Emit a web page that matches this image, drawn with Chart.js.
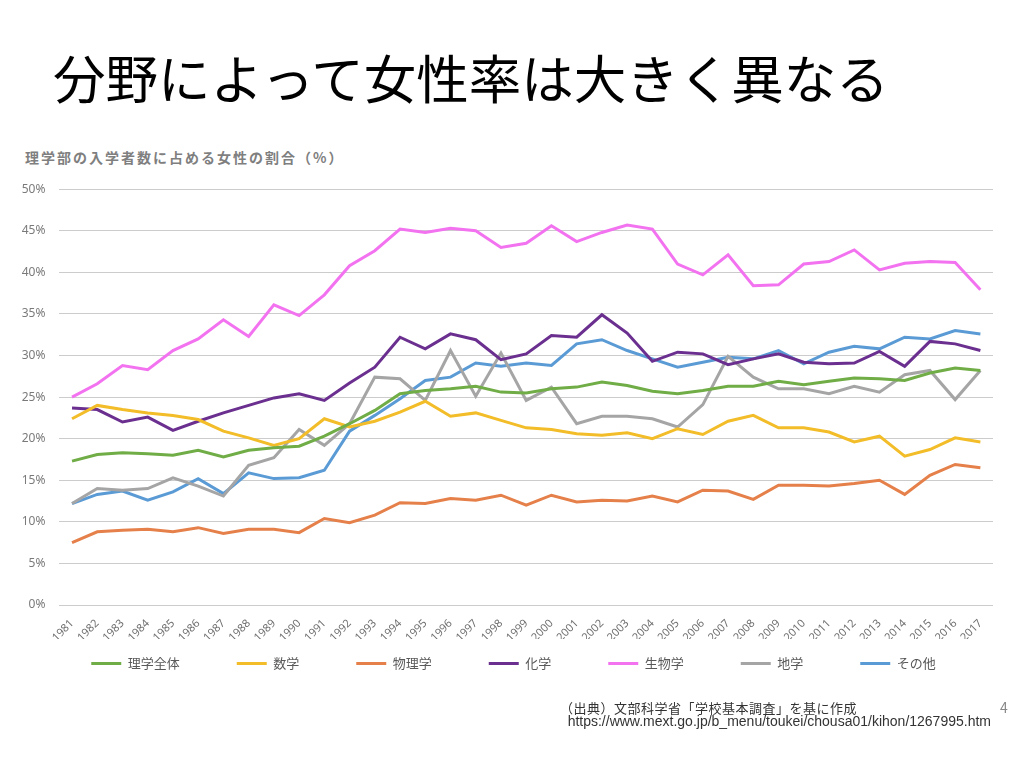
<!DOCTYPE html>
<html lang="ja">
<head>
<meta charset="utf-8">
<title>分野によって女性率は大きく異なる</title>
<script src="https://cdn.jsdelivr.net/npm/chart.js@4.4.0/dist/chart.umd.min.js"></script>
<style>
  html, body { margin: 0; padding: 0; background: #fff; }
  body { width: 1024px; height: 768px; position: relative; overflow: hidden; font-family: 'Noto Sans CJK JP', sans-serif; }
  .slide-title { position: absolute; left: 53px; top: 48px; font-size: 52.5px; line-height: 56px; color: #000; white-space: nowrap; }
  .chart-title { position: absolute; left: 25px; top: 147px; font-size: 14px; font-weight: bold; letter-spacing: 2px; color: #7f7f7f; white-space: nowrap; }
  #chart { position: absolute; left: 0; top: 168px; }
  .source { position: absolute; left: 560px; top: 698px; font-size: 13px; letter-spacing: 0.5px; color: #333; white-space: nowrap; }
  .url { position: absolute; right: 33px; top: 713px; font-family: 'Liberation Sans', sans-serif; font-size: 14px; color: #333; white-space: nowrap; }
  .page { position: absolute; left: 1000px; top: 697px; font-size: 14px; color: #888; }
</style>
</head>
<body>
<div class="slide-title">分野によって女性率は大きく異なる</div>
<div class="chart-title">理学部の入学者数に占める女性の割合（%）</div>
<canvas id="chart" width="1024" height="551"></canvas>
<div class="source">（出典）文部科学省「学校基本調査」を基に作成</div>
<div class="url">https://www.mext.go.jp/b_menu/toukei/chousa01/kihon/1267995.htm</div>
<div class="page">4</div>

<script>
// years 1981-2017
const years = ["1981","1982","1983","1984","1985","1986","1987","1988","1989","1990",
  "1991","1992","1993","1994","1995","1996","1997","1998","1999","2000",
  "2001","2002","2003","2004","2005","2006","2007","2008","2009","2010",
  "2011","2012","2013","2014","2015","2016","2017"];

// 女性の割合 (%)
const rigakuZentai = [17.3,18.1,18.3,18.2,18.0,18.6,17.8,18.6,18.9,19.1,
  20.3,21.8,23.4,25.4,25.8,26.0,26.3,25.6,25.5,26.0,
  26.2,26.8,26.4,25.7,25.4,25.8,26.3,26.3,26.9,26.5,
  26.9,27.3,27.2,27.0,27.9,28.5,28.2];
const sugaku = [22.4,24.0,23.5,23.1,22.8,22.3,20.9,20.1,19.2,20.0,
  22.4,21.4,22.1,23.2,24.5,22.7,23.1,22.2,21.3,21.1,
  20.6,20.4,20.7,20.0,21.2,20.5,22.1,22.8,21.3,21.3,
  20.8,19.6,20.3,17.9,18.7,20.1,19.6];
const butsurigaku = [7.5,8.8,9.0,9.1,8.8,9.3,8.6,9.1,9.1,8.7,
  10.4,9.9,10.8,12.3,12.2,12.8,12.6,13.2,12.0,13.2,
  12.4,12.6,12.5,13.1,12.4,13.8,13.7,12.7,14.4,14.4,
  14.3,14.6,15.0,13.3,15.6,16.9,16.5];
const kagaku = [23.7,23.5,22.0,22.6,21.0,22.1,23.1,24.0,24.9,25.4,
  24.6,26.7,28.6,32.2,30.8,32.6,31.9,29.5,30.2,32.4,
  32.2,34.9,32.7,29.3,30.4,30.2,28.9,29.6,30.2,29.2,
  29.0,29.1,30.5,28.7,31.7,31.4,30.6];
const seibutsugaku = [25.0,26.6,28.8,28.3,30.6,32.0,34.3,32.3,36.1,34.8,
  37.3,40.8,42.6,45.2,44.8,45.3,45.0,43.0,43.5,45.6,
  43.7,44.8,45.7,45.2,41.0,39.7,42.1,38.4,38.5,41.0,
  41.3,42.7,40.3,41.1,41.3,41.2,37.9];
const chigaku = [12.2,14.0,13.8,14.0,15.3,14.3,13.1,16.8,17.7,21.1,
  19.2,21.8,27.4,27.2,24.6,30.6,25.1,30.3,24.6,26.2,
  21.8,22.7,22.7,22.4,21.4,24.1,29.9,27.4,26.0,26.0,
  25.4,26.3,25.6,27.7,28.2,24.7,28.2];
const sonota = [12.2,13.3,13.7,12.6,13.6,15.2,13.4,15.9,15.2,15.3,
  16.2,20.9,22.8,24.8,27.0,27.4,29.1,28.7,29.1,28.8,
  31.4,31.9,30.6,29.6,28.6,29.2,29.8,29.6,30.6,29.0,
  30.4,31.1,30.8,32.2,32.0,33.0,32.6];

const yTicks = [0, 5, 10, 15, 20, 25, 30, 35, 40, 45, 50];

function series(label, data, color) {
  return {
    label: label,
    data: data,
    borderColor: color,
    backgroundColor: color,
    borderWidth: 3,
    pointRadius: 0,
    pointHoverRadius: 0,
    tension: 0,
    fill: false
  };
}

// legend sits just under the rotated year labels
const legendLift = {
  id: 'legendLift',
  afterLayout(chart) {
    const lg = chart.legend;
    if (!lg) return;
    const pad = lg.options.labels.padding;
    const shift = lg.top - (chart.chartArea.bottom + 52 - pad);
    lg.top -= shift;
    lg.bottom -= shift;
    lg.left += 34;
  }
};

new Chart("chart", {
  type: "line",
  data: {
    labels: years,
    datasets: [
      series("理学全体", rigakuZentai, "#70ad47"),
      series("数学", sugaku, "#f2bd28"),
      series("物理学", butsurigaku, "#e5804a"),
      series("化学", kagaku, "#6a2f8f"),
      series("生物学", seibutsugaku, "#f272f0"),
      series("地学", chigaku, "#a5a5a5"),
      series("その他", sonota, "#5b9bd5")
    ]
  },
  plugins: [legendLift],
  options: {
    responsive: false,
    animation: false,
    layout: { padding: { left: 0, right: 31, top: 8, bottom: 0 } },
    plugins: {
      title: { display: false },
      tooltip: { enabled: false },
      legend: {
        position: "bottom",
        labels: {
          usePointStyle: true,
          pointStyle: "line",
          pointStyleWidth: 30,
          padding: 57,
          color: "#595959",
          font: { family: "'Noto Sans CJK JP', sans-serif", size: 13 }
        }
      }
    },
    scales: {
      x: {
        offset: true,
        grid: { display: false },
        border: { display: false },
        ticks: {
          autoSkip: false,
          maxRotation: 45,
          minRotation: 45,
          padding: 4,
          color: "#6f6f6f",
          font: { family: "'Noto Sans', sans-serif", size: 11 }
        },
        afterFit: function(scale) { scale.height = 34; }
      },
      y: {
        min: 0,
        max: 50,
        afterBuildTicks: function(scale) {
          scale.ticks = yTicks.map(function(v) { return { value: v }; });
        },
        grid: { color: "#cccccc", lineWidth: 1, drawTicks: false },
        border: { display: false },
        ticks: {
          padding: 14,
          color: "#7a7a7a",
          font: { family: "'Noto Sans', sans-serif", size: 12 },
          callback: function(v) { return v + "%"; }
        },
        afterFit: function(scale) { scale.width = 59.4; }
      }
    }
  }
});
</script>
</body>
</html>
